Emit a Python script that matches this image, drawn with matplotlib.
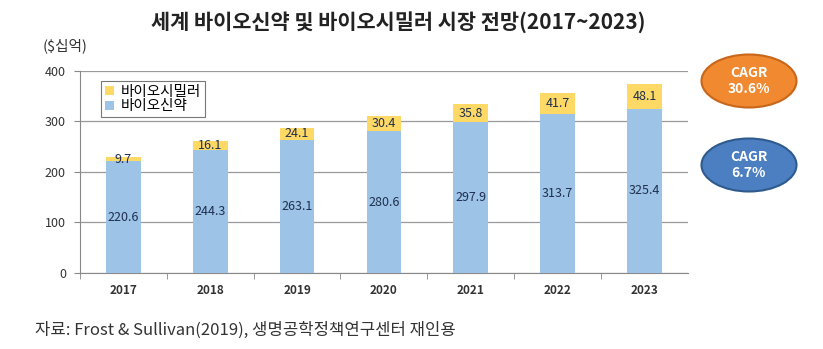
import matplotlib
matplotlib.use("Agg")
import matplotlib.pyplot as plt
from matplotlib.patches import Ellipse

plt.rcParams['font.family'] = ['Noto Sans CJK KR', 'DejaVu Sans']

years = ['2017', '2018', '2019', '2020', '2021', '2022', '2023']
biologics = [220.6, 244.3, 263.1, 280.6, 297.9, 313.7, 325.4]
biosimilars = [9.7, 16.1, 24.1, 30.4, 35.8, 41.7, 48.1]
yticks = [0, 100, 200, 300, 400]

fig = plt.figure(figsize=(8.23, 3.49), dpi=100)
ax = fig.add_axes([0.097, 0.218, 0.739, 0.579])

blue = '#9DC3E6'
yellow = '#FFD966'
x = list(range(len(years)))
b1 = ax.bar(x, biologics, width=0.4, color=blue, label='바이오신약', zorder=3)
b2 = ax.bar(x, biosimilars, width=0.4, bottom=biologics, color=yellow, label='바이오시밀러', zorder=3)

for i in x:
    ax.text(i, biologics[i] / 2, f'{biologics[i]:.1f}', ha='center', va='center',
            fontsize=9, color='#1F2F4F', zorder=4)
    ax.text(i, biologics[i] + biosimilars[i] / 2, f'{biosimilars[i]:.1f}', ha='center', va='center',
            fontsize=9, color='#1F2F4F', zorder=4)

ax.set_xlim(-0.5, len(years) - 0.5)
ax.set_ylim(0, 400)
ax.set_yticks(yticks)
ax.set_yticklabels([str(t) for t in yticks], fontsize=9, color='#333333')
ax.set_xticks(x)
ax.set_xticklabels(years, fontsize=8.5, color='#333333', fontweight='bold')
ax.tick_params(axis='x', length=0, pad=8)
ax.set_xticks([i + 0.5 for i in x[:-1]] + [-0.5], minor=True)
ax.tick_params(axis='x', which='minor', length=4, color='#888888')
ax.tick_params(axis='y', length=4, color='#888888', pad=6)
ax.grid(axis='y', color='#999999', linewidth=0.9, zorder=0)
for s in ['top', 'right']:
    ax.spines[s].set_visible(False)
ax.spines['left'].set_color('#888888')
ax.spines['bottom'].set_color('#888888')

handles = [b2, b1]
leg = ax.legend(handles, ['바이오시밀러', '바이오신약'], loc='upper left', bbox_to_anchor=(0.035, 0.95),
                fontsize=10.5, frameon=True, fancybox=False, edgecolor='#555555',
                handlelength=0.6, handleheight=0.6, handletextpad=0.5, borderpad=0.25,
                labelspacing=0.05, borderaxespad=0)
leg.get_frame().set_linewidth(0.8)

fig.text(0.484, 0.937, '세계 바이오신약 및 바이오시밀러 시장 전망(2017~2023)', ha='center', va='center',
         fontsize=15, fontweight='bold', color='#222222')
fig.text(0.052, 0.87, '($십억)', ha='left', va='center', fontsize=10.5, color='#333333')
fig.text(0.042, 0.055, '자료: Frost & Sullivan(2019), 생명공학정책연구센터 재인용', ha='left', va='center',
         fontsize=12, color='#333333')

# CAGR ellipses in figure pixel coordinates
W, H = 823, 349
e1 = Ellipse((749 / W, 1 - 81 / H), 95 / W, 53 / H, transform=fig.transFigure,
             facecolor='#F0892F', edgecolor='#C8661A', linewidth=1.5)
e2 = Ellipse((749 / W, 1 - 165 / H), 95 / W, 53 / H, transform=fig.transFigure,
             facecolor='#4B7FC1', edgecolor='#2F5A8E', linewidth=1.5)
fig.patches.extend([e1, e2])
fig.text(749 / W, 1 - 81 / H, 'CAGR\n30.6%', ha='center', va='center', fontsize=10,
         fontweight='bold', color='white', linespacing=1.1)
fig.text(749 / W, 1 - 165 / H, 'CAGR\n6.7%', ha='center', va='center', fontsize=10,
         fontweight='bold', color='white', linespacing=1.1)

fig.savefig('out.png', dpi=100)
